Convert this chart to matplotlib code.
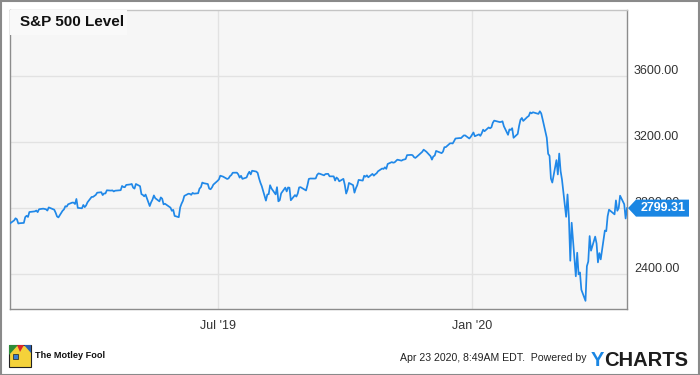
import matplotlib
matplotlib.use("Agg")
import matplotlib.pyplot as plt
import matplotlib.dates as mdates
import matplotlib.transforms as mtransforms
from matplotlib.patches import Rectangle, Polygon
import pandas as pd

plt.rcParams['font.family'] = ['Liberation Sans', 'DejaVu Sans']

# ---- data: S&P 500 daily closes, Feb 1 2019 .. Apr 22 2020 ----
start_date = "2019-02-01"
end_date = "2020-04-22"
market_holidays = ["2019-02-18", "2019-04-19", "2019-05-27", "2019-07-04",
                   "2019-09-02", "2019-11-28", "2019-12-25", "2020-01-01",
                   "2020-01-20", "2020-02-17", "2020-04-10"]
sp500 = [
    2706.53,
    2724.87, 2737.70, 2731.61, 2706.05, 2707.88,
    2709.80, 2744.73, 2753.03, 2745.73, 2775.60,
    2779.76, 2784.70, 2774.88, 2792.67,
    2796.11, 2793.90, 2792.38, 2784.49, 2803.69,
    2792.81, 2789.65, 2771.45, 2748.93, 2743.07,
    2783.30, 2791.52, 2810.92, 2808.48, 2822.48,
    2832.94, 2832.57, 2824.23, 2854.88, 2800.71,
    2798.36, 2818.46, 2805.37, 2815.44, 2834.40,
    2867.19, 2867.24, 2873.40, 2879.39, 2892.74,
    2895.77, 2878.20, 2888.21, 2888.32, 2907.41,
    2905.58, 2907.06, 2900.45, 2905.03,
    2907.97, 2933.68, 2927.25, 2926.17, 2939.88,
    2943.03, 2945.83, 2923.73, 2917.52, 2945.64,
    2932.47, 2884.05, 2879.42, 2870.72, 2881.40,
    2811.87, 2834.41, 2850.96, 2876.32, 2859.53,
    2840.23, 2864.36, 2856.27, 2822.24, 2826.06,
    2802.39, 2783.02, 2788.86, 2752.06,
    2744.45, 2803.27, 2826.15, 2843.49, 2873.34,
    2886.73, 2885.72, 2879.84, 2891.64, 2886.98,
    2889.67, 2917.75, 2926.46, 2954.18, 2950.46,
    2945.35, 2917.38, 2913.78, 2924.92, 2941.76,
    2964.33, 2973.01, 2995.82, 2990.41,
    2975.95, 2979.63, 2993.07, 2999.91, 3013.77,
    3014.30, 3004.04, 2984.42, 2995.11, 2976.61,
    2985.03, 3005.47, 3019.56, 3003.67, 3025.86,
    3020.97, 3013.18, 2980.38, 2953.56, 2932.05,
    2844.74, 2881.77, 2883.98, 2938.09, 2918.65,
    2882.70, 2926.32, 2840.60, 2847.60, 2888.68,
    2923.65, 2900.51, 2924.43, 2922.95, 2847.11,
    2878.38, 2869.16, 2887.94, 2924.58, 2926.46,
    2906.27, 2937.78, 2976.00, 2978.71,
    2978.43, 2979.39, 3000.93, 3009.57, 3007.39,
    2997.96, 3005.70, 3006.73, 3006.79, 2992.07,
    2991.78, 2966.60, 2984.87, 2977.62, 2961.79,
    2976.74, 2940.25, 2887.61, 2910.63, 2952.01,
    2938.79, 2893.06, 2919.40, 2938.13, 2970.27,
    2966.15, 2995.68, 2989.69, 2997.95, 2986.20,
    3006.72, 2995.99, 3004.52, 3010.29, 3022.55,
    3039.42, 3036.89, 3046.77, 3037.56, 3066.91,
    3078.27, 3074.62, 3076.78, 3085.18, 3093.08,
    3087.01, 3091.84, 3094.04, 3096.63, 3120.46,
    3122.03, 3120.18, 3108.46, 3103.54, 3110.29,
    3133.64, 3140.52, 3153.63, 3140.98,
    3113.87, 3093.20, 3112.76, 3117.43, 3145.91,
    3135.96, 3132.52, 3141.63, 3168.57, 3168.80,
    3191.45, 3192.52, 3191.14, 3205.37, 3221.22,
    3224.01, 3223.38, 3239.91, 3240.02,
    3221.29, 3230.78, 3257.85, 3234.85,
    3246.28, 3237.18, 3253.05, 3274.70, 3265.35,
    3288.13, 3283.15, 3289.29, 3316.81, 3329.62,
    3320.79, 3321.75, 3325.54, 3295.47,
    3243.63, 3276.24, 3273.40, 3283.66, 3225.52,
    3248.92, 3297.59, 3334.69, 3345.78, 3327.71,
    3352.09, 3357.75, 3379.45, 3373.94, 3380.16,
    3370.29, 3386.15, 3373.23, 3337.75,
    3225.89, 3128.21, 3116.39, 2978.76, 2954.22,
    3090.23, 3003.37, 3130.12, 3023.94, 2972.37,
    2746.56, 2882.23, 2741.38, 2480.64, 2711.02,
    2386.13, 2529.19, 2398.10, 2409.39, 2304.92,
    2237.40, 2447.33, 2475.56, 2630.07, 2541.47,
    2626.65, 2584.59, 2470.50, 2526.90, 2488.65,
    2663.68, 2659.41, 2749.98, 2789.82,
    2761.63, 2846.06, 2783.36, 2799.55, 2874.56,
    2823.16, 2736.56, 2799.31,
]
y_ticks = [2400, 2800, 3200, 3600]
y_tick_labels = ["2400.00", "2800.00", "3200.00", "3600.00"]
x_ticks = ["2019-07-01", "2020-01-01"]
x_tick_labels = ["Jul '19", "Jan '20"]
title = "S&P 500 Level"
last_label = "2799.31"
footer_time = "Apr 23 2020, 8:49AM EDT.  Powered by"

dates = pd.bdate_range(start_date, end_date, freq="C", holidays=market_holidays)
n = min(len(dates), len(sp500))
dates = dates[-n:]
vals = sp500[-n:]

W, H = 700, 375
fig = plt.figure(figsize=(W / 100, H / 100), dpi=100)
fig.patch.set_facecolor("white")
ax = fig.add_axes([10 / W, 66 / H, 617 / W, 299 / H])
ax.set_facecolor("#f6f6f6")

blue = "#2088e8"
ax.plot(dates, vals, color=blue, lw=1.25, solid_joinstyle="round", zorder=3)

ax.set_xlim(pd.Timestamp(start_date), pd.Timestamp(end_date))
ax.set_ylim(2188, 4000)

ax.set_yticks(y_ticks)
ax.set_yticklabels(y_tick_labels)
ax.yaxis.tick_right()
ax.set_xticks([pd.Timestamp(d) for d in x_ticks])
ax.set_xticklabels(x_tick_labels)
ax.tick_params(axis="both", length=0, labelsize=9, colors="#333333")
ax.tick_params(axis="y", pad=5)
ax.tick_params(axis="x", pad=8)
# y labels sit a little above their gridlines
shift = mtransforms.ScaledTranslation(0, 7 / 100, fig.dpi_scale_trans)
for lab in ax.get_yticklabels():
    lab.set_transform(lab.get_transform() + shift)
ax.grid(True, color="#e2e2e2", lw=1, zorder=0)
ax.set_axisbelow(True)
for side in ["left", "right", "bottom"]:
    ax.spines[side].set_color("#8c8c8c")
    ax.spines[side].set_linewidth(1)
ax.spines["top"].set_color("#c4c4c4")
ax.spines["top"].set_linewidth(1)

# title box
ax.add_patch(Rectangle((0, 1 - 25 / 299), 117 / 617, 25 / 299, transform=ax.transAxes,
                       facecolor="#f9f9f9", edgecolor="none", zorder=4))
ax.text(10 / 617, 1 - 12.5 / 299, title, transform=ax.transAxes, ha="left", va="center",
        fontsize=11, fontweight="bold", color="#111111", zorder=5)

# last value label
fig.canvas.draw()
px, py = ax.transData.transform((mdates.date2num(dates[-1]), vals[-1]))
xr = ax.transAxes.transform((1, 0))[0]
inv = fig.transFigure.inverted()
pts_px = [(xr + 1, py), (xr + 9, py - 8.5), (xr + 62, py - 8.5), (xr + 62, py + 8.5), (xr + 9, py + 8.5)]
pts = [tuple(inv.transform(p)) for p in pts_px]
fig.patches.append(Polygon(pts, closed=True, transform=fig.transFigure, facecolor="#1a86e3",
                           edgecolor="none", zorder=10))
tx, ty = inv.transform((xr + 36, py))
fig.text(tx, ty, last_label, ha="center", va="center", fontsize=9, fontweight="bold",
         color="white", zorder=11)

# outer border
fig.patches.append(Rectangle((0.5 / W, 0.5 / H), 1 - 1.5 / W, 1 - 1.5 / H, transform=fig.transFigure,
                             facecolor="none", edgecolor="#8a8a8a", lw=1.5, zorder=20))

# footer: Motley Fool logo
lx, ly, ls = 9 / W, 8 / H, 22
fig.patches.append(Rectangle((lx, ly), ls / W, ls / H, transform=fig.transFigure,
                             facecolor="#f4d23a", edgecolor="#222222", lw=0.8, zorder=5))
fig.patches.append(Polygon([(lx, ly + ls / H), (lx + 9 / W, ly + ls / H), (lx, ly + 12 / H)],
                           transform=fig.transFigure, facecolor="#2e8b3a", edgecolor="none", zorder=6))
fig.patches.append(Polygon([(lx + 8 / W, ly + ls / H), (lx + 15 / W, ly + ls / H), (lx + 11 / W, ly + 15 / H)],
                           transform=fig.transFigure, facecolor="#d8262c", edgecolor="none", zorder=6))
fig.patches.append(Polygon([(lx + 15 / W, ly + ls / H), (lx + ls / W, ly + ls / H), (lx + ls / W, ly + 14 / H)],
                           transform=fig.transFigure, facecolor="#2a5fb0", edgecolor="none", zorder=6))
fig.patches.append(Rectangle((lx + 4 / W, ly + 8 / H), 5 / W, 5 / H, transform=fig.transFigure,
                             facecolor="#3a7fd0", edgecolor="#222222", lw=0.5, zorder=7))
fig.text(35 / W, 19 / H, "The Motley Fool", ha="left", va="center", fontsize=6.6,
         fontweight="bold", color="#111111")

# footer right
fig.text(587 / W, 14 / H, footer_time, ha="right", va="baseline", fontsize=7.6, color="#222222")
t1 = fig.text(591 / W, 9.5 / H, "Y", ha="left", va="baseline", fontsize=14.5,
              fontweight="bold", color="#1a86e3")
fig.canvas.draw()
bb = t1.get_window_extent()
fig.text(bb.x1 / W, 9.5 / H, "CHARTS", ha="left", va="baseline", fontsize=14.5,
         fontweight="bold", color="#1d1d1d")

fig.savefig("out.png", dpi=100, facecolor="white")
